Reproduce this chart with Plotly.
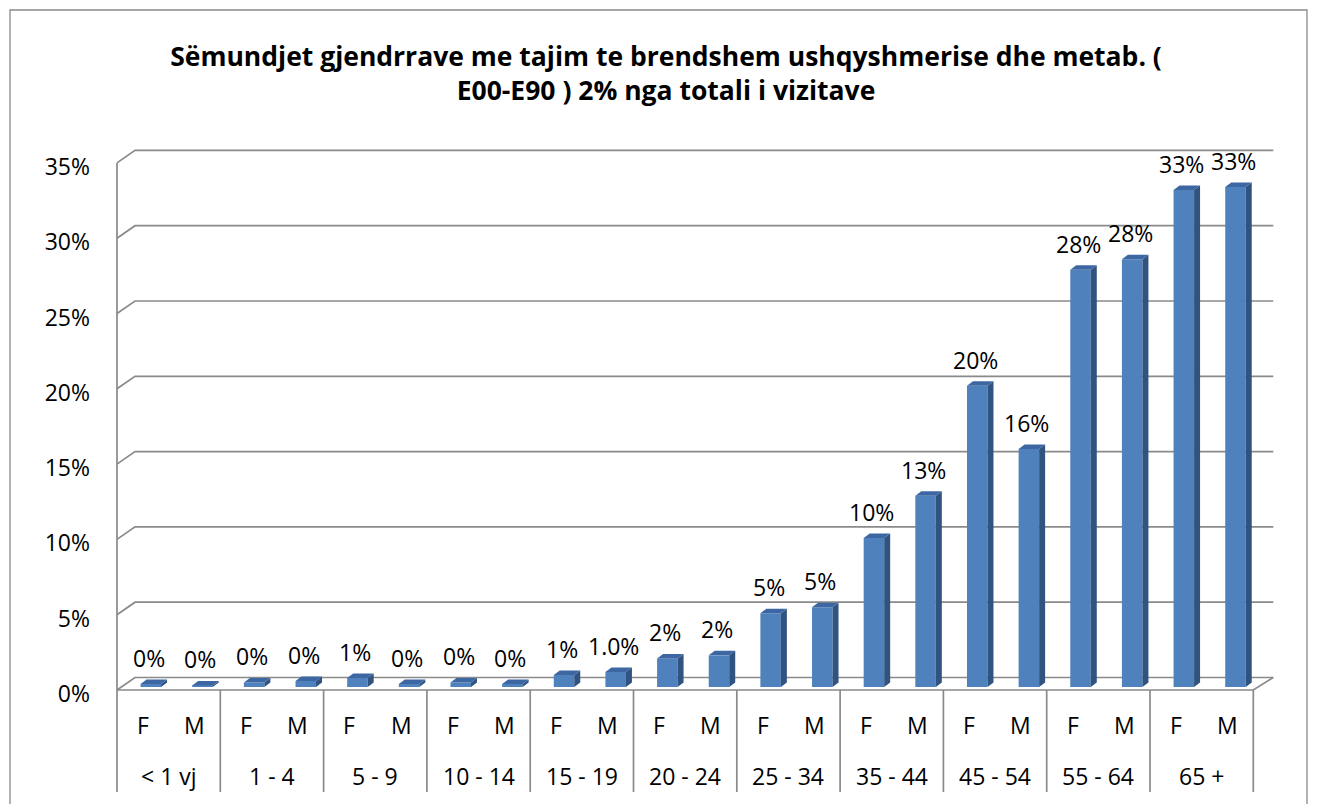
import plotly.graph_objects as go

# ---------------- data ----------------
groups = ["< 1 vj", "1 - 4", "5 - 9", "10 - 14", "15 - 19", "20 - 24",
          "25 - 34", "35 - 44", "45 - 54", "55 - 64", "65 +"]
sexes = ["F", "M"]
female = [0.2, 0.3, 0.6, 0.3, 0.8, 1.9, 4.9, 9.9, 20.0, 27.7, 33.0]
male = [0.1, 0.4, 0.2, 0.2, 1.0, 2.1, 5.3, 12.7, 15.8, 28.4, 33.2]
female_labels = ["0%", "0%", "1%", "0%", "1%", "2%", "5%", "10%", "20%", "28%", "33%"]
male_labels = ["0%", "0%", "0%", "0%", "1.0%", "2%", "5%", "13%", "16%", "28%", "33%"]
y_tickvals = [0, 5, 10, 15, 20, 25, 30, 35]
y_ticktext = ["0%", "5%", "10%", "15%", "20%", "25%", "30%", "35%"]
title_text = ("Sëmundjet gjendrrave me tajim te brendshem ushqyshmerise dhe metab. (<br>"
              "E00-E90 ) 2% nga totali i vizitave")

# ---------------- geometry / style ----------------
OFF = 8                                    # page body margin
W, H = 1319 - OFF, 804 - OFF
L, R, T, B = 107 - OFF, 1279 - OFF, 140 - OFF, 798 - OFF
SLOT = 51.65                               # px per category slot
X0PX, Y0PX, YPX = 117 - OFF, 687 - OFF, 15.06
x_range = [(L - X0PX) / SLOT, (R - X0PX) / SLOT]
y_range = [(Y0PX - B) / YPX, (Y0PX - T) / YPX]

BO = 8 / SLOT          # bar shift into depth
BW = 20.5 / SLOT       # bar front width
DX = 6 / SLOT          # bar depth x
DY = 4.5 / YPX         # bar depth y
FRONT_DY = -0.2        # front plane offset
BACK_DX, BACK_DY = 18 / SLOT, 0.63   # back wall offset
N = len(groups) * 2
RIGHT_BACK = N + 20 / SLOT
TABLE_BOTTOM = (687 - 792) / YPX

FRONT = "#4F81BD"
SIDE = "#31537F"
TOP = "#3D67A3"
LINE = "#8A8A8A"
FONT = "Open Sans"
FS = 23

xF = [2 * i + 0.5 + BO for i in range(len(groups))]
xM = [2 * i + 1.5 + BO for i in range(len(groups))]

fig = go.Figure()
fig.add_trace(go.Bar(x=xF, y=female, width=BW, name="F", marker=dict(color=FRONT, line=dict(width=0)),
                     hovertext=[f"{g} F" for g in groups]))
fig.add_trace(go.Bar(x=xM, y=male, width=BW, name="M", marker=dict(color=FRONT, line=dict(width=0)),
                     hovertext=[f"{g} M" for g in groups]))

shapes = []
# back wall gridlines with left side diagonal
for v in y_tickvals:
    shapes.append(dict(type="path", xref="x", yref="y", layer="below",
                       path=f"M 0,{v + FRONT_DY} L {BACK_DX},{v + BACK_DY} L {RIGHT_BACK},{v + BACK_DY}",
                       line=dict(color=LINE, width=1.7)))
# floor front edge + right diagonal
shapes.append(dict(type="path", xref="x", yref="y", layer="below",
                   path=f"M 0,{FRONT_DY} L {N},{FRONT_DY} L {RIGHT_BACK},{BACK_DY}",
                   line=dict(color=LINE, width=1.7)))
# left front vertical edge down through table
shapes.append(dict(type="line", xref="x", yref="y", layer="below",
                   x0=0, x1=0, y0=y_tickvals[-1] + FRONT_DY, y1=TABLE_BOTTOM,
                   line=dict(color=LINE, width=1.7)))
# category table separators
for k in range(1, len(groups) + 1):
    shapes.append(dict(type="line", xref="x", yref="y", layer="below",
                       x0=2 * k, x1=2 * k, y0=FRONT_DY, y1=TABLE_BOTTOM,
                       line=dict(color=LINE, width=1.7)))

# 3D faces of bars
for xs, vals in ((xF, female), (xM, male)):
    for xc, v in zip(xs, vals):
        xl, xr = xc - BW / 2, xc + BW / 2
        shapes.append(dict(type="path", xref="x", yref="y", layer="above",
                           path=f"M {xr},0 L {xr},{v} L {xr + DX},{v + DY} L {xr + DX},{DY} Z",
                           fillcolor=SIDE, line=dict(width=0)))
        shapes.append(dict(type="path", xref="x", yref="y", layer="above",
                           path=f"M {xl},{v} L {xr},{v} L {xr + DX},{v + DY} L {xl + DX},{v + DY} Z",
                           fillcolor=TOP, line=dict(width=0)))

# outer chart border (paper coords from pixels)
def px(xp):
    return (xp - OFF - L) / (R - L)

def py(yp):
    return (B - (yp - OFF)) / (B - T)

shapes.append(dict(type="path", xref="paper", yref="paper", layer="above",
                   path=f"M {px(10)},{py(804)} L {px(10)},{py(10)} L {px(1307)},{py(10)} L {px(1307)},{py(804)}",
                   line=dict(color="#8A8A8A", width=1.3)))

annotations = []
# data labels
for xs, vals, labs in ((xF, female, female_labels), (xM, male, male_labels)):
    for xc, v, t in zip(xs, vals, labs):
        annotations.append(dict(x=xc, y=v, xref="x", yref="y", text=t, showarrow=False,
                                yshift=26, xshift=-2, font=dict(family=FONT, size=FS, color="#000")))
# category table labels
for i, g in enumerate(groups):
    for j, s in enumerate(sexes):
        annotations.append(dict(x=2 * i + j + 0.5, y=0, xref="x", yref="y", text=s, showarrow=False,
                                yshift=-38, font=dict(family=FONT, size=FS, color="#000")))
    annotations.append(dict(x=2 * i + 1, y=0, xref="x", yref="y", text=g, showarrow=False,
                            yshift=-89, font=dict(family=FONT, size=FS, color="#000")))

fig.update_layout(
    width=W, height=H,
    margin=dict(l=L, r=W - R, t=T, b=H - B, pad=0),
    paper_bgcolor="white", plot_bgcolor="white",
    barmode="overlay", showlegend=False,
    title=dict(text=title_text, x=(666 - OFF) / W, xanchor="center", y=1 - (66 - OFF) / H, yanchor="middle",
               font=dict(family=FONT, size=26.5, color="#000", weight="bold")),
    xaxis=dict(range=x_range, showgrid=False, zeroline=False, showline=False,
               showticklabels=False, ticks=""),
    yaxis=dict(range=y_range, showgrid=False, zeroline=False, showline=False,
               tickvals=y_tickvals, ticktext=y_ticktext, ticks="",
               ticklabelshift=7, ticklabelstandoff=16,
               tickfont=dict(family=FONT, size=FS, color="#000")),
    shapes=shapes, annotations=annotations,
)

fig.write_html("out.html")
